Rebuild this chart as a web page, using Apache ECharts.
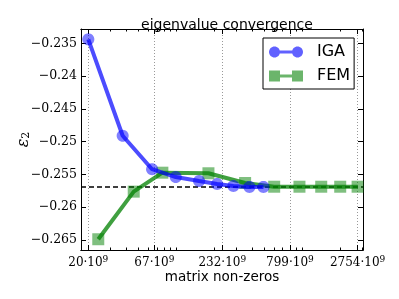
<!DOCTYPE html>
<html>
<head>
<meta charset="utf-8">
<script src="https://cdn.jsdelivr.net/npm/echarts@6/dist/echarts.min.js"></script>
<style>html,body{margin:0;padding:0;background:#fff}#c{width:399px;height:299px}</style>
</head>
<body>
<div id="c"></div>
<script>
// matrix non-zeros (in units of 10^9)
var igaX = [20, 37.5, 64.2, 99, 151.7, 211, 284, 381, 492];
var igaY = [-0.2344, -0.2491, -0.2542, -0.2554, -0.2560, -0.25645, -0.25675, -0.2569, -0.2569];
var femX = [24.0, 45.9, 77.5, 180, 352, 599, 951, 1416, 2004, 2754];
var femY = [-0.26488, -0.25762, -0.25473, -0.25482, -0.2563, -0.25687, -0.25687, -0.25687, -0.25687, -0.25687];
var refValue = -0.25686;
var xTicks = [20, 67, 232, 799, 2754];
var xMinorTicks = [30, 40, 50, 60, 70, 80, 90, 100, 200, 300, 400, 500, 600, 700, 800, 900, 1000, 2000, 3000];
var yTicks = [-0.265, -0.26, -0.255, -0.25, -0.245, -0.24, -0.235];

var xMin = 17.5, xMax = 3040, yMin = -0.26652, yMax = -0.23282;

// x is drawn on a logarithmic scale: the value axis works in log10 space
function lg(v) { return Math.log10(v); }
function pairs(xs, ys) { return xs.map(function (x, i) { return [lg(x), ys[i]]; }); }

var serif = 'DejaVu Serif';
var sans = 'DejaVu Sans';

// polygonal disc outline (symbol shape)
function discPath(cx, cy, r) {
  var n = 32, s = '';
  for (var i = 0; i < n; i++) {
    var a = 2 * Math.PI * i / n;
    s += (i === 0 ? 'M' : 'L') + (cx + r * Math.cos(a)).toFixed(3) + ',' + (cy + r * Math.sin(a)).toFixed(3);
  }
  return s + 'Z';
}

function xAxisBase(pos, ticks, len, showLabel, split) {
  return {
    type: 'value', position: pos, min: lg(xMin), max: lg(xMax), scale: true,
    axisLine: { show: true, onZero: false, lineStyle: { color: '#000', width: 1 } },
    axisTick: { show: true, inside: true, length: len, customValues: ticks.map(lg), lineStyle: { color: '#000', width: 1 } },
    axisLabel: showLabel ? {
      show: true, customValues: ticks.map(lg), margin: 5,
      formatter: function (v) { return '{n|' + Math.round(Math.pow(10, v)) + '\u00b710}{s|9}'; },
      rich: {
        n: { fontFamily: serif, fontSize: 12, color: '#000' },
        s: { fontFamily: serif, fontSize: 9, color: '#000', verticalAlign: 'top', padding: [0, 0, 6, 0] }
      }
    } : { show: false },
    splitLine: split ? { show: true, lineStyle: { type: [1, 2], color: '#999', width: 1 } } : { show: false },
    minorTick: { show: false }, minorSplitLine: { show: false }
  };
}

var xAxes = [
  xAxisBase('bottom', xTicks, 5, true, true),
  xAxisBase('bottom', xMinorTicks, 2.5, false, false),
  xAxisBase('top', xTicks, 5, false, false),
  xAxisBase('top', xMinorTicks, 2.5, false, false)
];
xAxes[0].name = 'matrix non-zeros';
xAxes[0].nameLocation = 'middle';
xAxes[0].nameGap = 20;
xAxes[0].nameMoveOverlap = false;
xAxes[0].nameTextStyle = { fontFamily: sans, fontSize: 13.5, color: '#000' };

function yAxisBase(pos, showLabel) {
  return {
    type: 'value', position: pos, min: yMin, max: yMax, scale: true,
    axisLine: { show: true, onZero: false, lineStyle: { color: '#000', width: 1 } },
    axisTick: { show: true, inside: true, length: 5, customValues: yTicks, lineStyle: { color: '#000', width: 1 } },
    axisLabel: showLabel ? {
      show: true, customValues: yTicks, margin: 4,
      fontFamily: serif, fontSize: 12.5, color: '#000',
      formatter: function (v) { return String(parseFloat(v.toFixed(4))).replace('-', '\u2212'); }
    } : { show: false },
    splitLine: { show: false }
  };
}
var yAxes = [yAxisBase('left', true), yAxisBase('right', false)];
yAxes[0].name = '{e|\u03b5}{s|2}';
yAxes[0].nameLocation = 'middle';
yAxes[0].nameRotate = 90;
yAxes[0].nameGap = 49;
yAxes[0].nameMoveOverlap = false;
yAxes[0].nameTextStyle = {
  rich: {
    e: { fontFamily: serif, fontStyle: 'italic', fontSize: 16, color: '#000' },
    s: { fontFamily: serif, fontSize: 11, color: '#000', verticalAlign: 'bottom', padding: [6, 0, 0, 0] }
  }
};

var circleSymbol = 'path://' + discPath(6, 6, 6);
var igaIcon = 'path://' + discPath(5.5, 5.5, 5.5) + ' ' + discPath(28.5, 5.5, 5.5) + ' M5,4L29,4L29,7L5,7Z';
var femIcon = 'path://M0,0h11v11h-11z M23,0h11v11h-11z M5,4h24v3h-24z';

var option = {
  animation: false,
  backgroundColor: '#fff',
  title: {
    text: 'eigenvalue convergence', left: 222, top: 13, textAlign: 'center',
    textStyle: { fontFamily: sans, fontSize: 14, fontWeight: 'normal', color: '#000' }
  },
  grid: { left: 81, top: 29, right: 36, bottom: 49, containLabel: false, outerBoundsMode: 'none' },
  legend: {
    orient: 'vertical', left: 263, top: 38,
    padding: [6, 4, 5, 6], itemGap: 8, itemWidth: 34, itemHeight: 11,
    backgroundColor: '#fff', borderColor: '#000', borderWidth: 1, borderRadius: 0,
    textStyle: { fontFamily: sans, fontSize: 16, color: '#000', lineHeight: 16, padding: [0, 0, 0, 9] },
    data: [
      { name: 'IGA', icon: igaIcon, itemStyle: { color: '#0000ff', opacity: 0.62 } },
      { name: 'FEM', icon: femIcon, itemStyle: { color: '#008000', opacity: 0.58 } }
    ]
  },
  xAxis: xAxes,
  yAxis: yAxes,
  series: [
    {
      name: 'FEM', type: 'line', xAxisIndex: 0, yAxisIndex: 0,
      data: pairs(femX, femY),
      symbol: 'rect', symbolSize: 12,
      lineStyle: { color: '#008000', opacity: 0.75, width: 4 },
      itemStyle: { color: '#008000', opacity: 0.5, borderWidth: 0 },
      z: 2
    },
    {
      name: 'IGA', type: 'line', xAxisIndex: 0, yAxisIndex: 0,
      data: pairs(igaX, igaY),
      symbol: circleSymbol, symbolSize: 12,
      lineStyle: { color: '#0000ff', opacity: 0.7, width: 4 },
      itemStyle: { color: '#0000ff', opacity: 0.5, borderWidth: 0 },
      z: 3,
      markLine: {
        silent: true, symbol: ['none', 'none'], label: { show: false }, precision: 6,
        lineStyle: { color: '#000', opacity: 1, type: [5, 3], width: 1.5 },
        data: [{ yAxis: refValue }],
        z: 1
      }
    }
  ]
};

var chart = echarts.init(document.getElementById('c'), null, { renderer: 'canvas' });
chart.setOption(option);
</script>
</body>
</html>
